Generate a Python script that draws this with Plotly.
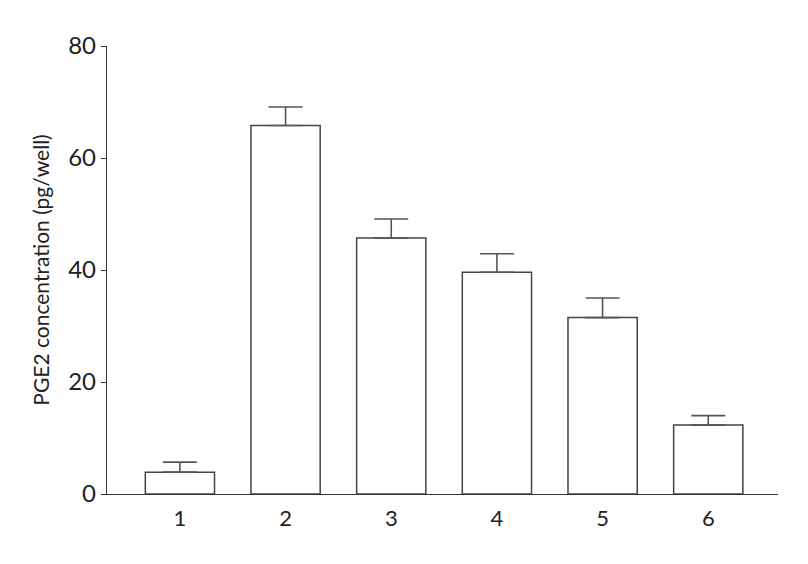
import plotly.graph_objects as go

groups = [1, 2, 3, 4, 5, 6]
pge2 = [3.9, 65.8, 45.7, 39.6, 31.5, 12.3]
sem = [1.8, 3.3, 3.4, 3.3, 3.5, 1.7]

fig = go.Figure()
fig.add_trace(go.Bar(
    x=groups, y=pge2, width=0.655,
    marker=dict(color="white", line=dict(color="#444", width=1.5)),
    error_y=dict(type="data", array=sem, arrayminus=[0] * len(sem), symmetric=False,
                 color="#555", thickness=1.6, width=17),
))

# page has an 8px body margin, so the figure is a bit smaller than the window
fig.update_layout(
    width=792, height=548,
    margin=dict(l=99, r=22, t=38, b=62),
    plot_bgcolor="white", paper_bgcolor="white",
    showlegend=False,
    font=dict(family="Lato", color="#222"),
    xaxis=dict(range=[0.31, 6.66], tickvals=groups, ticks="", showline=True,
               linecolor="#333", linewidth=1.4, showgrid=False, zeroline=False,
               tickfont=dict(size=22), ticklabelstandoff=4),
    yaxis=dict(range=[0, 80], tickvals=[0, 20, 40, 60, 80], ticks="outside", ticklen=5,
               tickcolor="#333", showline=True, linecolor="#333", linewidth=1.4,
               showgrid=False, zeroline=False, tickfont=dict(size=24),
               title=dict(text="PGE2 concentration (pg/well)", font=dict(size=21), standoff=12)),
)

fig.write_html("out.html")
